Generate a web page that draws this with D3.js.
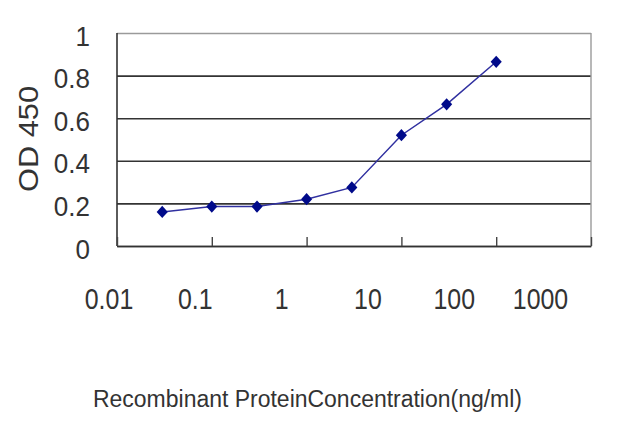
<!DOCTYPE html>
<html><head><meta charset="utf-8">
<script src="https://cdn.jsdelivr.net/npm/d3@7"></script>
<style>
html,body{margin:0;padding:0;background:#fff;}
svg{display:block;}
text{font-family:"Liberation Sans",Arial,sans-serif;fill:#333;}
</style></head>
<body><svg id="chart" width="640" height="427"></svg>
<script>
const concentrations = [0.03, 0.1, 0.3, 1, 3, 10, 30, 100];
const odValues = [0.16, 0.185, 0.185, 0.22, 0.275, 0.52, 0.665, 0.865];
const xTicks = [0.01, 0.1, 1, 10, 100, 1000];
const xTickLabels = ["0.01", "0.1", "1", "10", "100", "1000"];
const yTicks = [0, 0.2, 0.4, 0.6, 0.8, 1];
const yTickLabels = ["0", "0.2", "0.4", "0.6", "0.8", "1"];
const yTitle = "OD 450";
const xTitle = "Recombinant ProteinConcentration(ng/ml)";

const svg = d3.select("#chart");
const L = 117, R = 591, T = 33, B = 246;

const x = d3.scaleLog().domain([0.01, 1000]).range([L, R]);
const xLab = d3.scaleLog().domain([0.01, 1000]).range([108.5, 540]);
const y = d3.scaleLinear().domain([0, 1]).range([B, T]);

// gridlines
const grid = svg.append("g").attr("transform", `translate(${L},0)`)
  .call(d3.axisLeft(y).tickValues(yTicks).tickSize(-(R - L)).tickFormat(""));
grid.select(".domain").remove();
grid.selectAll(".tick line")
  .attr("stroke", d => d === 1 ? "#9a9a9a" : "#333")
  .attr("stroke-width", 1.6);

// right border
svg.append("line").attr("x1", R).attr("x2", R).attr("y1", T).attr("y2", B)
  .attr("stroke", "#9a9a9a").attr("stroke-width", 1.4);

// y axis line
svg.append("line").attr("x1", L).attr("x2", L).attr("y1", T).attr("y2", B)
  .attr("stroke", "#333").attr("stroke-width", 1.6);

// x axis with inward ticks
const xa = svg.append("g").attr("transform", `translate(0,${B})`)
  .call(d3.axisBottom(x).tickValues(xTicks).tickSizeInner(-9).tickSizeOuter(0).tickFormat(""));
xa.select(".domain").attr("stroke", "#333").attr("stroke-width", 1.6);
xa.selectAll(".tick line").attr("stroke", "#444").attr("stroke-width", 1.4);

// x tick labels
const xl = svg.append("g").attr("transform", `translate(0,309)`)
  .call(d3.axisBottom(xLab).tickValues(xTicks).tickSize(0).tickFormat((d, i) => xTickLabels[i]));
xl.select(".domain").remove();
xl.selectAll(".tick text")
  .attr("y", 0).attr("dy", 0)
  .attr("font-size", 29)
  .attr("fill", "#333")
  .attr("transform", "scale(0.86,1)")
  .attr("text-anchor", "middle");

// y tick labels
const yl = svg.append("g").attr("transform", `translate(90,0)`)
  .call(d3.axisLeft(y).tickValues(yTicks).tickSize(0).tickFormat((d, i) => yTickLabels[i]));
yl.select(".domain").remove();
yl.selectAll(".tick text")
  .attr("x", 0).attr("dy", 12)
  .attr("font-size", 28)
  .attr("fill", "#333")
  .attr("text-anchor", "end")
  .attr("transform", "scale(0.93,1)");

// line + markers
const line = d3.line().x(d => x(d[0])).y(d => y(d[1]));
const pts = concentrations.map((c, i) => [c, odValues[i]]);
svg.append("path").datum(pts).attr("d", line)
  .attr("fill", "none").attr("stroke", "#3030a0").attr("stroke-width", 1.5);
svg.append("g").selectAll("path").data(pts).join("path")
  .attr("d", d3.symbol().type(d3.symbolSquare).size(62))
  .attr("transform", d => `translate(${x(d[0])},${y(d[1])}) scale(1,1.1) rotate(45)`)
  .attr("fill", "#000a8a");

// titles
svg.append("text").attr("transform", "translate(38,139) rotate(-90)")
  .attr("text-anchor", "middle").attr("font-size", 28)
  .attr("textLength", 106).attr("lengthAdjust", "spacingAndGlyphs")
  .text(yTitle);
svg.append("text").attr("x", 93).attr("y", 407)
  .attr("font-size", 23)
  .attr("textLength", 429).attr("lengthAdjust", "spacingAndGlyphs")
  .text(xTitle);
</script></body></html>
